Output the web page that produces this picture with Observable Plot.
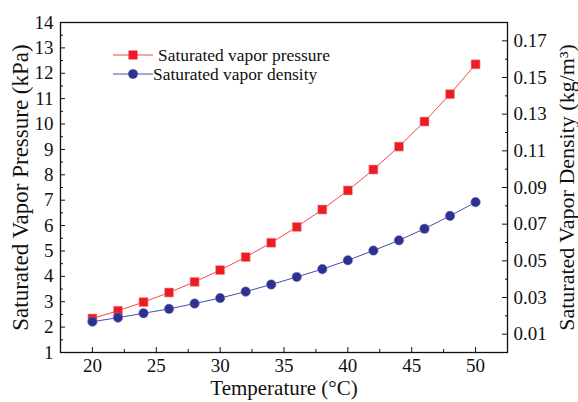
<!DOCTYPE html>
<html><head><meta charset="utf-8">
<script src="https://cdn.jsdelivr.net/npm/d3@7"></script>
<script src="https://cdn.jsdelivr.net/npm/@observablehq/plot@0.6"></script>
<style>body{margin:0;background:#fff}</style>
</head><body><div id="chart"></div>
<script>
const temperature = [20,22,24,26,28,30,32,34,36,38,40,42,44,46,48,50];
const pressure = [2.339,2.645,2.985,3.363,3.782,4.246,4.759,5.324,5.947,6.632,7.384,8.208,9.111,10.099,11.177,12.352];
const density = [0.0168,0.0190,0.0214,0.0238,0.0267,0.0297,0.0332,0.0371,0.0412,0.0455,0.0503,0.0556,0.0612,0.0675,0.0745,0.0820];
const xTicks = [20,25,30,35,40,45,50];
const xMinor = [22.5,27.5,32.5,37.5,42.5,47.5];
const yTicks = [1,2,3,4,5,6,7,8,9,10,11,12,13,14];
const yMinor = [1.5,2.5,3.5,4.5,5.5,6.5,7.5,8.5,9.5,10.5,11.5,12.5,13.5];
const rightTicks = [0.01,0.03,0.05,0.07,0.09,0.11,0.13,0.15,0.17];
const rightMinor = [0.02,0.04,0.06,0.08,0.10,0.12,0.14,0.16];
const xDomain = [17.5, 52.5];
const yDomain = [1, 14];
const rightDomain = [0, 0.18];
const seriesNames = ["Saturated vapor pressure", "Saturated vapor density"];
const xTitle = "Temperature (°C)";
const yTitle = "Saturated Vapor Pressure (kPa)";
const y2Title = "Saturated Vapor Density (kg/m³)";

const RED = "#ED1C24", BLUE = "#2E3192";
const toLeft = d => yDomain[0] + (d - rightDomain[0]) * (yDomain[1] - yDomain[0]) / (rightDomain[1] - rightDomain[0]);

const pData = temperature.map((t, i) => ({t, v: pressure[i]}));
const dData = temperature.map((t, i) => ({t, v: toLeft(density[i])}));

function legend(index, scales, values, dims) {
  const g = d3.create("svg:g")
    .attr("font-family", "'Liberation Serif', 'Times New Roman', serif")
    .attr("font-size", 17.4)
    .attr("text-anchor", "start");
  const rows = [
    {y: 55, color: RED, sym: "square", text: seriesNames[0], tx: 158, lc: "#f0474d"},
    {y: 74, color: BLUE, sym: "circle", text: seriesNames[1], tx: 153, lc: "#4a4da3"}
  ];
  for (const r of rows) {
    g.append("line").attr("x1", 113).attr("x2", 153).attr("y1", r.y).attr("y2", r.y)
      .attr("stroke", r.lc).attr("stroke-width", 1);
    if (r.sym === "square") g.append("rect").attr("x", 128.5).attr("y", r.y - 4.5).attr("width", 9).attr("height", 9).attr("fill", r.color);
    else g.append("circle").attr("cx", 133).attr("cy", r.y).attr("r", 4.8).attr("fill", r.color);
    g.append("text").attr("x", r.tx).attr("y", r.y).attr("dy", "0.35em").attr("fill", "#111")
      .attr("text-anchor", "start").text(r.text);
  }
  return g.node();
}

const font = 19;
const chart = Plot.plot({
  width: 578, height: 402,
  marginLeft: 60, marginRight: 71, marginTop: 22, marginBottom: 50,
  style: {fontFamily: "'Liberation Serif', 'Times New Roman', serif", background: "white", color: "#111"},
  x: {domain: xDomain, axis: null},
  y: {domain: yDomain, axis: null},
  marks: [
    Plot.line(pData, {x: "t", y: "v", stroke: "#f0474d", strokeWidth: 1}),
    Plot.line(dData, {x: "t", y: "v", stroke: "#4a4da3", strokeWidth: 1}),
    Plot.dot(pData, {x: "t", y: "v", symbol: "square", r: 5.1, fill: RED, stroke: "#f4a0a3", strokeWidth: 0.6}),
    Plot.dot(dData, {x: "t", y: "v", r: 4.8, fill: BLUE, stroke: "#8c8ec4", strokeWidth: 0.5}),
    // bottom axis
    Plot.axisX(xTicks, {anchor: "bottom", tickSize: 0, tickPadding: 6, fontSize: font, label: null}),
    Plot.axisX(xTicks, {anchor: "bottom", tickSize: -5, tickFormat: () => "", label: null, stroke: "#111"}),
    Plot.axisX(xMinor, {anchor: "bottom", tickSize: -3, tickFormat: () => "", label: null, stroke: "#111"}),
    // left axis
    Plot.axisY(yTicks, {anchor: "left", tickSize: 0, tickPadding: 7, fontSize: font, label: null}),
    Plot.axisY(yTicks, {anchor: "left", tickSize: -5, tickFormat: () => "", label: null, stroke: "#111"}),
    Plot.axisY(yMinor, {anchor: "left", tickSize: -3, tickFormat: () => "", label: null, stroke: "#111"}),
    // right axis (density)
    Plot.axisY(rightTicks.map(toLeft), {anchor: "right", tickSize: 0, tickPadding: 6, fontSize: font, label: null,
      tickFormat: v => d3.format(".2f")(rightDomain[0] + (v - yDomain[0]) * (rightDomain[1] - rightDomain[0]) / (yDomain[1] - yDomain[0]))}),
    Plot.axisY(rightTicks.map(toLeft), {anchor: "right", tickSize: -6, tickFormat: () => "", label: null, stroke: "#111"}),
    Plot.axisY(rightMinor.map(toLeft), {anchor: "right", tickSize: -3, tickFormat: () => "", label: null, stroke: "#111"}),
    Plot.frame({stroke: "#111", strokeWidth: 1.3}),
    Plot.text([xTitle], {frameAnchor: "bottom", dy: 36, fontSize: 21, fill: "#111", textAnchor: "middle", lineAnchor: "middle"}),
    Plot.text([yTitle], {frameAnchor: "left", dx: -40, rotate: -90, fontSize: 23, fill: "#111", textAnchor: "middle", lineAnchor: "middle"}),
    Plot.text([y2Title], {frameAnchor: "right", dx: 59, rotate: -90, fontSize: 22, fill: "#111", textAnchor: "middle", lineAnchor: "middle"}),
    legend
  ]
});
document.getElementById("chart").appendChild(chart);
</script>
</body></html>
